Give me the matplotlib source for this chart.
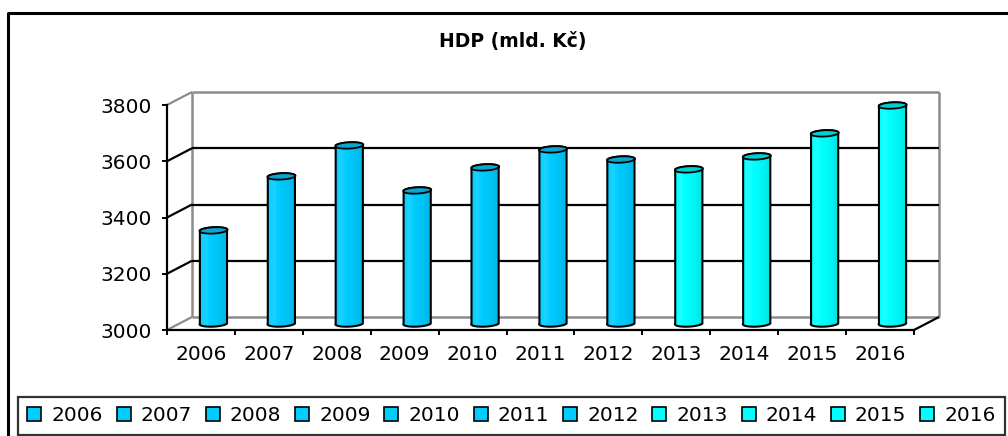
import numpy as np
import matplotlib
matplotlib.use("Agg")
import matplotlib.pyplot as plt
from matplotlib.patches import Polygon, Rectangle, Patch
from matplotlib.lines import Line2D
from matplotlib.transforms import IdentityTransform
from matplotlib.colors import to_rgb

# ---- data ----
years = ['2006', '2007', '2008', '2009', '2010', '2011', '2012', '2013', '2014', '2015', '2016']
hdp = [3331, 3523, 3633, 3473, 3555, 3619, 3583, 3548, 3594, 3676, 3775]
bar_colors = ['#00CCFF'] * 7 + ['#00FFFF'] * 4
top_colors = ['#0AA6D2'] * 7 + ['#00CFCF'] * 4
y_ticks = [3000, 3200, 3400, 3600, 3800]
title = 'HDP (mld. Kč)'

plt.rcParams['font.family'] = ['DejaVu Sans']

W, H, DPI = 1008, 436, 100
fig = plt.figure(figsize=(W / DPI, H / DPI), dpi=DPI)
fig.patch.set_facecolor('white')

n = len(years)
ax = fig.add_axes([167 / W, 1 - 330 / H, (914 - 167) / W, 225 / H])
ax.set_xlim(-0.5, n - 0.5)
ax.set_ylim(y_ticks[0], y_ticks[-1])
ax.set_autoscale_on(False)
ax.patch.set_visible(False)
for s in ['top', 'right']:
    ax.spines[s].set_visible(False)
for s in ['left', 'bottom']:
    ax.spines[s].set_linewidth(1.6)
    ax.spines[s].set_color('black')
    ax.spines[s].set_zorder(4)

ax.set_yticks(y_ticks)
ax.tick_params(axis='y', length=3.8, width=1.4, pad=7, labelsize=14.5, colors='black')
ax.set_xticks(range(n))
ax.set_xticklabels(years)
ax.tick_params(axis='x', which='major', length=0, pad=11, labelsize=14.5)
ax.set_xticks(np.arange(-0.5, n), minor=True)
ax.tick_params(axis='x', which='minor', length=3.8, width=1.4)

fig.text(513 / W, 1 - 41 / H, title, ha='center', va='center',
         fontsize=13.5, fontweight='bold')

DX, DY = 25.0, 13.0  # depth offset in pixels
IDT = IdentityTransform()


def to(x, y):
    return ax.transData.transform((x, y))


def seg(p, q, color, lw=1.5, z=1):
    ax.add_line(Line2D([p[0], q[0]], [p[1], q[1]], transform=IDT, color=color,
                       lw=lw, zorder=z, clip_on=False, solid_capstyle='butt'))


x0, x1 = -0.5, n - 0.5
ylo, yhi = y_ticks[0], y_ticks[-1]
grey = '#8C8C8C'

def back(x, y):
    p = to(x, y)
    return (p[0] + DX, p[1] + DY)

# back wall edges
seg(back(x0, ylo), back(x0, yhi), grey, 1.8)
seg(back(x0, yhi), back(x1, yhi), grey, 1.8)
seg(back(x1, yhi), back(x1, ylo), grey, 1.8)
seg(back(x0, ylo), back(x1, ylo), grey, 1.8)
# gridlines on back wall and side diagonals
for yv in y_ticks:
    c = 'black' if ylo < yv < yhi else grey
    if ylo < yv < yhi:
        seg(back(x0, yv), back(x1, yv), 'black', 1.6)
    seg(to(x0, yv), back(x0, yv), c, 1.6)
# floor right diagonal
seg(to(x1, ylo), back(x1, ylo), 'black', 1.6)

# ---- bars (cylinders) ----
r = (to(0.2, ylo)[0] - to(0.0, ylo)[0])
ea, eb = 3.0, 3.2
t_lo = np.linspace(np.pi, 2 * np.pi, 40)
t_hi = np.linspace(0, np.pi, 40)
t_all = np.linspace(0, 2 * np.pi, 80)

def shade(base, u):
    base = np.array(to_rgb(base))
    f = np.interp(u, [0, 0.28, 0.4, 0.6, 1.0], [0.97, 1.07, 1.0, 0.97, 0.86])
    if f > 1:
        return tuple(base + (1 - base) * (f - 1) * 1.5)
    return tuple(base * f)

for i, v in enumerate(hdp):
    cx, cy0 = to(i, ylo)
    cx += DX / 2
    cy0 += DY / 2
    cy1 = to(i, v)[1] + DY / 2
    bx = cx + r * np.cos(t_lo) + ea * np.sin(t_lo)
    by = cy0 + eb * np.sin(t_lo)
    tx = cx + r * np.cos(t_hi) + ea * np.sin(t_hi)
    ty = cy1 + eb * np.sin(t_hi)
    verts = np.column_stack([np.concatenate([bx, tx]), np.concatenate([by, ty])])
    sil = Polygon(verts, closed=True, transform=IDT, facecolor=bar_colors[i],
                  edgecolor='none', zorder=3, clip_on=False)
    ax.add_patch(sil)
    N = 24
    xs = np.linspace(cx - r - ea - 1, cx + r + ea + 1, N + 1)
    for k in range(N):
        u = (k + 0.5) / N
        rect = Rectangle((xs[k], cy0 - eb - 2), xs[k + 1] - xs[k] + 0.3,
                         cy1 - cy0 + 2 * eb + 4, transform=IDT,
                         facecolor=shade(bar_colors[i], u), edgecolor='none',
                         zorder=3.1)
        ax.add_patch(rect)
        rect.set_clip_path(sil)
    ax.add_patch(Polygon(verts, closed=True, transform=IDT, fill=False,
                         edgecolor='black', lw=1.5, zorder=5, clip_on=False))
    ex = cx + r * np.cos(t_all) + ea * np.sin(t_all)
    ey = cy1 + eb * np.sin(t_all)
    ax.add_patch(Polygon(np.column_stack([ex, ey]), closed=True, transform=IDT,
                         facecolor=top_colors[i], edgecolor='black', lw=1.3,
                         zorder=6, clip_on=False))

# ---- legend ----
handles = [Patch(facecolor=c, edgecolor='black', linewidth=1.2) for c in bar_colors]
leg = fig.legend(handles, years, loc='upper left',
                 bbox_to_anchor=(18 / W, 1 - 433 / H, 987 / W, 36 / H),
                 mode='expand', ncol=n, fontsize=14.5, frameon=True,
                 fancybox=False, borderaxespad=0, borderpad=0.47,
                 handlelength=0.69, handleheight=0.69, handletextpad=0.5,
                 columnspacing=0.6)
leg.get_frame().set_edgecolor('black')
leg.get_frame().set_linewidth(1.6)

# ---- outer chart border (left and top visible) ----
fig.add_artist(Line2D([8 / W, 8 / W, 1.0], [0.0, 1 - 13 / H, 1 - 13 / H],
                      transform=fig.transFigure, color='black', lw=2.2))

fig.savefig('out.png', dpi=DPI, facecolor='white')
